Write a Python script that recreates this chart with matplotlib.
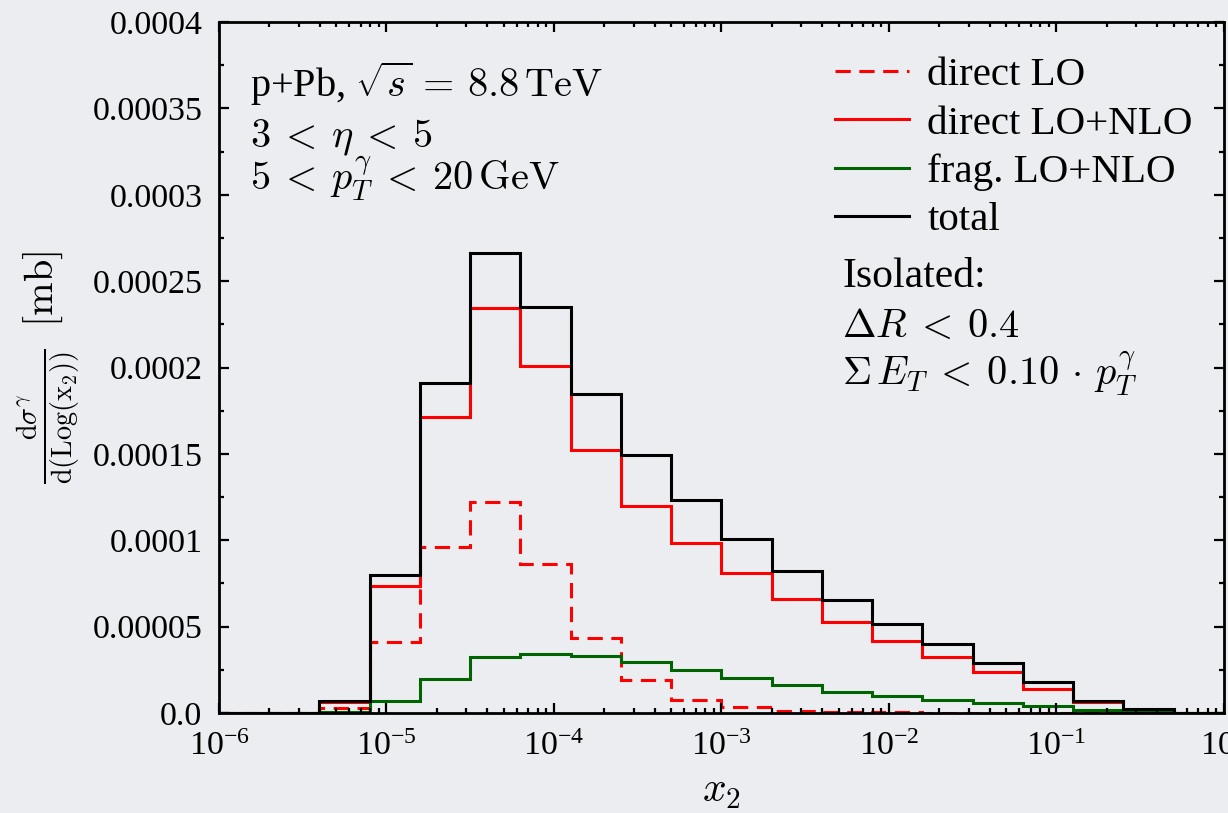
import numpy as np
import matplotlib
matplotlib.use("Agg")
import matplotlib.pyplot as plt
from matplotlib.ticker import FixedLocator, FixedFormatter, LogLocator, NullFormatter

plt.rcParams["font.family"] = "serif"
plt.rcParams["font.serif"] = ["Liberation Serif", "DejaVu Serif"]
plt.rcParams["mathtext.fontset"] = "cm"

BG = "#ebedf0"

# 20 bins, 0.3 decades wide, from x2 = 1e-6 to 1
x2_edges = 10.0 ** np.linspace(-6.0, 0.0, 21)

direct_lo = [0.0, 0.0, 2.9e-6, 4.09e-5, 9.59e-5, 1.223e-4, 8.62e-5, 4.34e-5, 1.91e-5, 7.7e-6,
             3.4e-6, 1.3e-6, 6e-7, 3e-7, 1.5e-7, 1e-7, 5e-8, 0.0, 0.0, 0.0]
direct_lo_nlo = [0.0, 0.0, 6.3e-6, 7.35e-5, 1.715e-4, 2.343e-4, 2.010e-4, 1.521e-4, 1.20e-4, 9.86e-5,
                 8.10e-5, 6.60e-5, 5.25e-5, 4.17e-5, 3.22e-5, 2.35e-5, 1.39e-5, 6.2e-6, 1.4e-6, 0.0]
frag_lo_nlo = [0.0, 0.0, 5e-7, 6.7e-6, 1.99e-5, 3.22e-5, 3.43e-5, 3.30e-5, 2.93e-5, 2.48e-5,
               2.02e-5, 1.62e-5, 1.23e-5, 1.0e-5, 7.7e-6, 5.7e-6, 3.8e-6, 1.8e-6, 9e-7, 0.0]
total = [0.0, 0.0, 7.0e-6, 7.97e-5, 1.912e-4, 2.665e-4, 2.350e-4, 1.848e-4, 1.492e-4, 1.233e-4,
         1.007e-4, 8.22e-5, 6.52e-5, 5.16e-5, 3.98e-5, 2.88e-5, 1.77e-5, 7.2e-6, 2.3e-6, 0.0]

y_ticks = [0.0, 0.00005, 0.0001, 0.00015, 0.0002, 0.00025, 0.0003, 0.00035, 0.0004]
y_labels = ["0.0", "0.00005", "0.0001", "0.00015", "0.0002", "0.00025", "0.0003", "0.00035", "0.0004"]

fig = plt.figure(figsize=(12.28, 8.13), dpi=100, facecolor=BG)
ax = fig.add_axes([0.1783, 0.1230, 0.8184, 0.8499], facecolor=BG)

lw = 2.2
ax.stairs(direct_lo, x2_edges, color="#ff0000", lw=lw, linestyle=(0, (5, 2.8)), label="direct LO")
ax.stairs(direct_lo_nlo, x2_edges, color="#ff0000", lw=lw, label="direct LO+NLO")
ax.stairs(frag_lo_nlo, x2_edges, color="#006400", lw=lw, label="frag. LO+NLO")
ax.stairs(total, x2_edges, color="black", lw=lw, label="total")

ax.set_xscale("log")
ax.set_xlim(1e-6, 1.0)
ax.set_ylim(0.0, 0.0004)

ax.xaxis.set_major_locator(LogLocator(base=10, numticks=10))
ax.xaxis.set_minor_locator(LogLocator(base=10, subs=np.arange(2, 10), numticks=100))
ax.xaxis.set_minor_formatter(NullFormatter())
ax.yaxis.set_major_locator(FixedLocator(y_ticks))
ax.yaxis.set_major_formatter(FixedFormatter(y_labels))
ax.yaxis.set_minor_locator(FixedLocator(np.arange(0.0, 0.0004, 0.000025)))

for s in ax.spines.values():
    s.set_linewidth(2.0)
ax.tick_params(which="both", direction="in", top=True, right=True, width=1.6)
ax.tick_params(which="major", length=7, labelsize=24.5)
ax.tick_params(which="minor", length=3.8)
ax.tick_params(axis="x", which="major", pad=13)
ax.tick_params(axis="y", which="major", pad=12)

ax.set_xlabel(r"$x_2$", fontsize=30, labelpad=8)
ax.set_ylabel(r"$\frac{\mathrm{d}\sigma^{\gamma}}{\mathrm{d(Log(x_2))}}\;\;[\mathrm{mb}]$",
              fontsize=29, labelpad=8)

leg = ax.legend(loc="upper left", bbox_to_anchor=(0.613, 0.950), frameon=False, fontsize=29.5,
                handlelength=1.8, handletextpad=0.45, labelspacing=0.26,
                borderpad=0.0, borderaxespad=0.0)

txt = dict(transform=ax.transAxes, fontsize=29, va="baseline", ha="left")
ax.text(0.031, 0.891, r"p+Pb, $\sqrt{s}\,=\,8.8\,\mathrm{TeV}$", **txt)
ax.text(0.031, 0.819, r"$3\:<\:\eta\:<\:5$", **txt)
ax.text(0.031, 0.757, r"$5\:<\:p_T^{\gamma}\:<\:20\,\mathrm{GeV}$", **txt)

ax.text(0.620, 0.6165, "Isolated:", fontsize=30, transform=ax.transAxes, va="baseline", ha="left")
ax.text(0.620, 0.544, r"$\Delta R\:<\:0.4$", **txt)
ax.text(0.620, 0.4747, r"$\Sigma\, E_T\:<\:0.10\,\cdot\,p_T^{\gamma}$", **txt)

fig.savefig("out.png", dpi=100, facecolor=BG)
